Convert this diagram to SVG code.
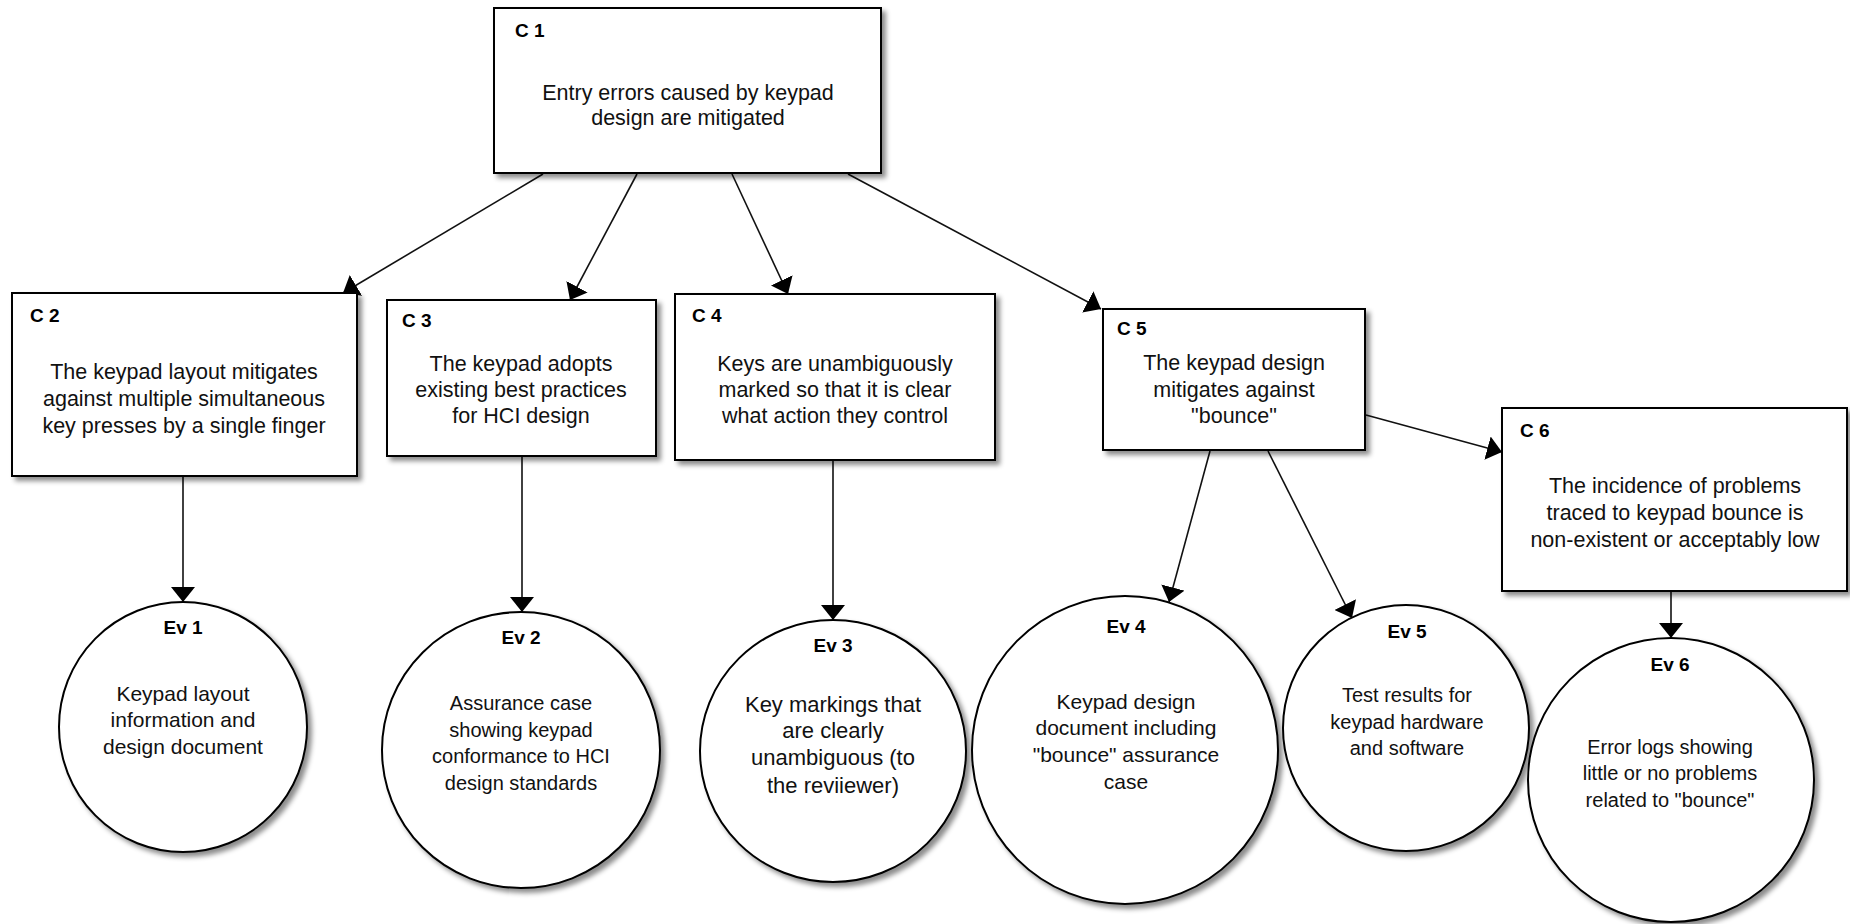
<svg xmlns="http://www.w3.org/2000/svg" width="1850" height="924" viewBox="0 0 1850 924">
<style>
.box{fill:#fff;stroke:#000;stroke-width:2;filter:url(#sh)}
.ell{fill:#fff;stroke:#000;stroke-width:2;filter:url(#sh)}
.lbl{font-family:"Liberation Sans",Arial,sans-serif;font-size:19px;font-weight:bold;fill:#000}
.ttl{font-family:"Liberation Sans",Arial,sans-serif;font-size:19px;font-weight:bold;fill:#000;text-anchor:middle}
.txt{font-family:"Liberation Sans",Arial,sans-serif;font-size:21.5px;fill:#111;text-anchor:middle}
.s20{font-size:20px}
.s21{font-size:21px}
.s22{font-size:22px}
.con{stroke:#111;stroke-width:1.6;fill:none;marker-end:url(#ah)}
</style>
<defs>
<filter id="sh" x="-10%" y="-10%" width="130%" height="130%">
<feDropShadow dx="4" dy="4" stdDeviation="2.5" flood-color="#000" flood-opacity="0.45"/>
</filter>
<marker id="ah" viewBox="0 0 15 24" refX="15" refY="12" markerWidth="15" markerHeight="24" markerUnits="userSpaceOnUse" orient="auto">
<path d="M0,0 L15,12 L0,24 Z" fill="#000"/>
</marker>
</defs>
<rect width="1850" height="924" fill="#fff"/>
<g id="connectors">
<line class="con" x1="543" y1="174" x2="343" y2="293"/>
<line class="con" x1="637" y1="174" x2="570" y2="300"/>
<line class="con" x1="732" y1="174" x2="788" y2="294"/>
<line class="con" x1="848" y1="174" x2="1101" y2="309"/>
<line class="con" x1="183" y1="476" x2="183" y2="602"/>
<line class="con" x1="522" y1="456" x2="522" y2="612"/>
<line class="con" x1="833" y1="461" x2="833" y2="620"/>
<line class="con" x1="1210" y1="451" x2="1169" y2="602"/>
<line class="con" x1="1268" y1="451" x2="1352" y2="618"/>
<line class="con" x1="1366" y1="415" x2="1502" y2="452"/>
<line class="con" x1="1671" y1="591" x2="1671" y2="638"/>
</g>
<g id="C1">
<rect class="box" x="494" y="8" width="387" height="165"/>
<text class="lbl" x="515" y="37">C 1</text>
<text class="txt" x="688" y="100">Entry errors caused by keypad</text>
<text class="txt" x="688" y="125">design are mitigated</text>
</g>
<g id="C2">
<rect class="box" x="12" y="293" width="345" height="183"/>
<text class="lbl" x="30" y="322">C 2</text>
<text class="txt" x="184" y="379">The keypad layout mitigates</text>
<text class="txt" x="184" y="406">against multiple simultaneous</text>
<text class="txt" x="184" y="433">key presses by a single finger</text>
</g>
<g id="C3">
<rect class="box" x="387" y="300" width="269" height="156"/>
<text class="lbl" x="402" y="327">C 3</text>
<text class="txt" x="521" y="371">The keypad adopts</text>
<text class="txt" x="521" y="397">existing best practices</text>
<text class="txt" x="521" y="423">for HCI design</text>
</g>
<g id="C4">
<rect class="box" x="675" y="294" width="320" height="166"/>
<text class="lbl" x="692" y="322">C 4</text>
<text class="txt" x="835" y="371">Keys are unambiguously</text>
<text class="txt" x="835" y="397">marked so that it is clear</text>
<text class="txt" x="835" y="423">what action they control</text>
</g>
<g id="C5">
<rect class="box" x="1103" y="309" width="262" height="141"/>
<text class="lbl" x="1117" y="335">C 5</text>
<text class="txt" x="1234" y="370">The keypad design</text>
<text class="txt" x="1234" y="397">mitigates against</text>
<text class="txt" x="1234" y="423">"bounce"</text>
</g>
<g id="C6">
<rect class="box" x="1502" y="408" width="345" height="183"/>
<text class="lbl" x="1520" y="437">C 6</text>
<text class="txt" x="1675" y="493">The incidence of problems</text>
<text class="txt" x="1675" y="520">traced to keypad bounce is</text>
<text class="txt" x="1675" y="547">non-existent or acceptably low</text>
</g>
<g id="Ev1">
<ellipse class="ell" cx="183" cy="727" rx="124" ry="125"/>
<text class="ttl" x="183" y="634">Ev 1</text>
<text class="txt s21" x="183" y="701">Keypad layout</text>
<text class="txt s21" x="183" y="727">information and</text>
<text class="txt s21" x="183" y="754">design document</text>
</g>
<g id="Ev2">
<ellipse class="ell" cx="521" cy="750" rx="139" ry="138"/>
<text class="ttl" x="521" y="644">Ev 2</text>
<text class="txt s20" x="521" y="710">Assurance case</text>
<text class="txt s20" x="521" y="737">showing keypad</text>
<text class="txt s20" x="521" y="763">conformance to HCI</text>
<text class="txt s20" x="521" y="790">design standards</text>
</g>
<g id="Ev3">
<ellipse class="ell" cx="833" cy="751" rx="133" ry="131"/>
<text class="ttl" x="833" y="652">Ev 3</text>
<text class="txt s22" x="833" y="712">Key markings that</text>
<text class="txt s22" x="833" y="738">are clearly</text>
<text class="txt s22" x="833" y="765">unambiguous (to</text>
<text class="txt s22" x="833" y="793">the reviiewer)</text>
</g>
<g id="Ev4">
<ellipse class="ell" cx="1125" cy="750" rx="153" ry="154"/>
<text class="ttl" x="1126" y="633">Ev 4</text>
<text class="txt s21" x="1126" y="709">Keypad design</text>
<text class="txt s21" x="1126" y="735">document including</text>
<text class="txt s21" x="1126" y="762">"bounce" assurance</text>
<text class="txt s21" x="1126" y="789">case</text>
</g>
<g id="Ev5">
<ellipse class="ell" cx="1406" cy="728" rx="123" ry="123"/>
<text class="ttl" x="1407" y="638">Ev 5</text>
<text class="txt s20" x="1407" y="702">Test results for</text>
<text class="txt s20" x="1407" y="729">keypad hardware</text>
<text class="txt s20" x="1407" y="755">and software</text>
</g>
<g id="Ev6">
<ellipse class="ell" cx="1671" cy="780" rx="143" ry="142"/>
<text class="ttl" x="1670" y="671">Ev 6</text>
<text class="txt s20" x="1670" y="754">Error logs showing</text>
<text class="txt s20" x="1670" y="780">little or no problems</text>
<text class="txt s20" x="1670" y="807">related to "bounce"</text>
</g>
</svg>
